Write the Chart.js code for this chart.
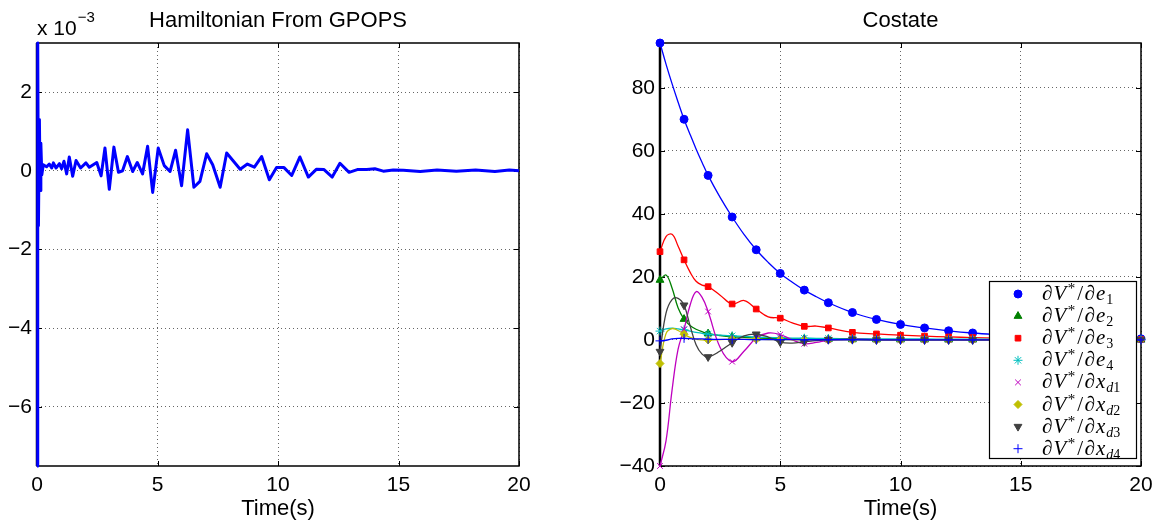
<!DOCTYPE html>
<html><head><meta charset="utf-8">
<script src="https://cdn.jsdelivr.net/npm/chart.js@4.4.0/dist/chart.umd.min.js"></script>
<style>
html,body{margin:0;padding:0;background:#fff;width:1162px;height:526px;overflow:hidden}
canvas{position:absolute;top:0}
#c1{left:0}
#c2{left:580px}
</style></head><body>
<canvas id="c1" width="570" height="526"></canvas>
<canvas id="c2" width="582" height="526"></canvas>
<script>
// ---------- data ----------
const timeTicks = [0, 5, 10, 15, 20];
const hamYTicks = [-6, -4, -2, 0, 2];          // units of 1e-3
const costateYTicks = [-40, -20, 0, 20, 40, 60, 80];

const hamTime = [0,0.03,0.06,0.1,0.13,0.16,0.2,0.26,0.4,0.51,0.61,0.68,0.79,0.93,1.02,1.12,1.23,1.34,1.48,1.62,1.81,2.03,2.17,2.48,2.66,2.82,3.0,3.19,3.38,3.55,3.75,3.97,4.16,4.38,4.59,4.8,5.03,5.28,5.52,5.75,6.0,6.25,6.51,6.76,7.04,7.29,7.6,7.87,8.43,8.73,9.02,9.32,9.64,9.94,10.25,10.57,10.91,11.26,11.6,11.91,12.25,12.57,12.95,13.29,13.68,14.02,14.37,14.78,15.2,15.9,16.6,17.4,18.2,19.0,19.6,20];
const hamValue = [-7.5,3.245,-1.4,1.3,-0.5,0.7,-0.1,0.15,0.1,0.17,0.07,0.2,0.07,0.18,0.05,0.24,-0.08,0.35,-0.14,0.26,0.07,0.2,0.09,0.21,-0.13,0.58,-0.47,0.6,-0.04,0,0.36,-0.02,0.21,-0.08,0.62,-0.55,0.58,0.13,-0.02,0.52,-0.38,1.04,-0.42,-0.27,0.43,0.15,-0.42,0.45,0.04,0.17,0.09,0.36,-0.23,0.08,0.08,-0.12,0.35,-0.16,0.04,0.03,-0.16,0.19,-0.04,0.03,0.03,0.05,-0.01,0.02,0.01,-0.02,0.02,-0.01,0.02,-0.02,0.02,0];

const costateTime = [0,0.25,0.5,0.75,1,1.25,1.5,1.75,2,2.5,3,3.5,4,4.5,5,5.5,6,6.5,7,8,9,10,11,12,13,14,15,16,17,18,19,20];
const dVde1  = [94.2,87.5,81.3,75.5,70.0,65.2,60.6,56.3,52.2,45.2,39.0,33.4,28.6,24.6,21.1,18.3,15.8,13.7,11.8,8.7,6.5,4.9,3.8,2.9,2.2,1.7,1.3,1.0,0.8,0.6,0.45,0.35];
const dVde2  = [19.0,20.6,16.5,10.2,6.6,4.6,3.4,2.6,2.0,1.4,1.0,0.8,0.6,0.5,0.4,0.35,0.3,0.25,0.2,0.15,0.12,0.1,0.08,0.07,0.06,0.05,0.04,0.03,0.03,0.02,0.02,0.02];
const dVde3  = [28.0,32.8,33.5,29.8,25.4,21.5,18.6,17.4,16.9,14.2,11.4,12.5,9.8,7.3,6.9,5.4,4.3,4.4,3.8,2.4,1.9,1.5,1.2,0.95,0.75,0.6,0.45,0.35,0.3,0.25,0.2,0.15];
const dVde4  = [2.8,3.5,3.7,3.5,3.2,2.8,2.4,2.1,1.8,1.5,1.3,1.1,0.9,0.8,0.7,0.6,0.55,0.5,0.45,0.4,0.35,0.3,0.3,0.25,0.25,0.2,0.2,0.2,0.15,0.15,0.15,0.1];
const dVdxd1 = [-40,-32,-16,-3,3.4,11,15.3,13.5,9.0,-2.4,-6.9,-3.5,0.5,2.2,1.7,0,-1.2,-0.8,-0.1,0.2,0.1,0,0,0,0,0,0,0,0,0,0,0];
const dVdxd2 = [-7.5,2.0,3.6,3.0,1.8,0.8,0.2,0.0,0.0,0.1,0.2,0.2,0.2,0.1,0.1,0.05,0,0,0,0,0,0,0,0,0,0,0,0,0,0,0,0];
const dVdxd3 = [-3.7,8.5,12.8,13.2,11.0,4.5,-1.5,-4.5,-5.4,-3.5,-0.9,1.3,1.8,0.9,-0.7,-1.0,-0.6,-0.2,0.1,0.2,0,0,0,0,0,0,0,0,0,0,0,0];
const dVdxd4 = [-0.3,-0.1,0.3,0.5,0.5,0.4,0.3,0.3,0.2,0.2,0.15,0.15,0.1,0.1,0.1,0.1,0.05,0.05,0.05,0.05,0,0,0,0,0,0,0,0,0,0,0,0];

const legendVar = ['e','e','e','e','x','x','x','x'];
const legendSub = ['1','2','3','4','d1','d2','d3','d4'];

// ---------- styles ----------
const SANS = '"Liberation Sans", Arial, sans-serif';
const SERIF = '"Liberation Serif", "Times New Roman", serif';
const seriesStyle = [
  {data: dVde1,  color:'#0000ff', style:'circle',   r:4,   rot:0},
  {data: dVde2,  color:'#008000', style:'triangle', r:4.5, rot:0},
  {data: dVde3,  color:'#ff0000', style:'rect',     r:4,   rot:0},
  {data: dVde4,  color:'#00bfbf', style:'star',     r:4.5, rot:0},
  {data: dVdxd1, color:'#bf00bf', style:'crossRot', r:4,   rot:0},
  {data: dVdxd2, color:'#bfbf00', style:'rectRot',  r:4,   rot:0},
  {data: dVdxd3, color:'#404040', style:'triangle', r:4.5, rot:180},
  {data: dVdxd4, color:'#0000ff', style:'cross',    r:4.5, rot:0},
];

const minus = v => String(v).replace('-', '\u2212');

function axisOpts(ticks, min, max, isX, fit) {
  return {
    type:'linear', min, max,
    afterBuildTicks: s => { s.ticks = ticks.map(v => ({value:v})); },
    afterFit: s => { if (isX) s.height = fit; else s.width = fit; },
    grid:{color:'rgba(0,0,0,0.6)', lineWidth:1, drawTicks:false},
    border:{display:false, dash:[1,3]},
    ticks:{color:'#000', font:{family:SANS, size:21}, padding: isX ? 7 : 5, callback: v => minus(v), maxRotation:0, autoSkip:false},
    title: isX ? {display:true, text:'Time(s)', color:'#000', font:{family:SANS, size:22}, padding:{top:0, bottom:4}} : {display:false}
  };
}

function framePlugin(title, extra) {
  return {
    id:'frame',
    beforeDatasetsDraw(chart) {
      const {ctx, chartArea:a, scales:{x, y}} = chart;
      ctx.save();
      ctx.strokeStyle = '#000';
      ctx.lineWidth = 1;
      ctx.beginPath();
      x.ticks.forEach(t => {
        const px = Math.round(x.getPixelForValue(t.value)) + 0.5;
        ctx.moveTo(px, a.bottom); ctx.lineTo(px, a.bottom - 5);
        ctx.moveTo(px, a.top); ctx.lineTo(px, a.top + 5);
      });
      y.ticks.forEach(t => {
        const py = Math.round(y.getPixelForValue(t.value)) + 0.5;
        ctx.moveTo(a.left, py); ctx.lineTo(a.left + 5, py);
        ctx.moveTo(a.right, py); ctx.lineTo(a.right - 5, py);
      });
      ctx.stroke();
      ctx.lineWidth = 1.5;
      ctx.strokeRect(a.left, a.top, a.right - a.left, a.bottom - a.top);
      ctx.lineWidth = 2.5;
      ctx.beginPath(); ctx.moveTo(a.left, a.top); ctx.lineTo(a.left, a.bottom); ctx.stroke();
      ctx.restore();
    },
    afterDraw(chart) {
      const {ctx, chartArea:a} = chart;
      ctx.save();
      ctx.fillStyle = '#000';
      ctx.font = '22px ' + SANS;
      ctx.textAlign = 'center';
      ctx.textBaseline = 'alphabetic';
      ctx.fillText(title, (a.left + a.right) / 2, 27);
      ctx.restore();
      if (extra) extra(chart);
    }
  };
}

const baseOpts = {
  responsive:false, animation:false, events:[],
  plugins:{legend:{display:false}, tooltip:{enabled:false}}
};

// ---------- left chart ----------
new Chart(document.getElementById('c1'), {
  type:'line',
  data:{datasets:[{
    data: hamTime.map((t, i) => ({x:t, y:hamValue[i]})),
    borderColor:'#0000ff', borderWidth:3, pointRadius:0, tension:0, clip:6,
    borderJoinStyle:'round'
  }]},
  options:{...baseOpts,
    layout:{padding:{left:0, top:43, right:51, bottom:0}},
    scales:{
      x: axisOpts(timeTicks, 0, 20, true, 60),
      y: axisOpts(hamYTicks, -7.5, 3.245, false, 37)
    }
  },
  plugins:[framePlugin('Hamiltonian From GPOPS', chart => {
    const {ctx, chartArea:a} = chart;
    ctx.save();
    ctx.fillStyle = '#000';
    ctx.textBaseline = 'alphabetic';
    ctx.font = '21px ' + SANS;
    const s = 'x 10';
    ctx.fillText(s, a.left, 35);
    const w = ctx.measureText(s).width;
    ctx.font = '15px ' + SANS;
    ctx.fillText('\u22123', a.left + w + 1, 22);
    ctx.restore();
  })]
});

// ---------- right chart ----------
const isMarker = i => Number.isInteger(costateTime[i]);
const costateSets = seriesStyle.map(s => ({
  data: costateTime.map((t, i) => ({x:t, y:s.data[i]})),
  borderColor:s.color, backgroundColor:s.color, borderWidth:1.3,
  pointStyle:s.style, pointRotation:s.rot,
  pointRadius: ctx => isMarker(ctx.dataIndex) ? s.r : 0,
  pointBorderWidth:1, pointBackgroundColor:s.color, pointBorderColor:s.color,
  tension:0.4, clip:10
})).reverse();

function drawLegend(chart) {
  const {ctx, chartArea:a} = chart;
  const bw = 147, bh = 177;
  const bx = a.right - 5 - bw, by = a.bottom - 8 - bh;
  ctx.save();
  ctx.fillStyle = '#fff';
  ctx.fillRect(bx, by, bw, bh);
  ctx.strokeStyle = '#000';
  ctx.lineWidth = 1.2;
  ctx.strokeRect(bx + 0.5, by + 0.5, bw, bh);
  seriesStyle.forEach((s, i) => {
    const cy = by + 13 + i * 22.1;
    ctx.fillStyle = s.color; ctx.strokeStyle = s.color; ctx.lineWidth = 1;
    Chart.helpers.drawPoint(ctx, {pointStyle:s.style, radius:s.r, rotation:s.rot, borderWidth:1}, bx + 29, cy);
    // label: ∂V*/∂e_1
    ctx.fillStyle = '#000';
    ctx.textBaseline = 'alphabetic';
    let cx = bx + 53;
    const base = cy + 6;
    const seg = (t, font, dy, gap) => { ctx.font = font; ctx.fillText(t, cx, base + dy); cx += ctx.measureText(t).width + (gap || 0); };
    const it = n => 'italic ' + n + 'px ' + SERIF;
    const up = n => n + 'px ' + SERIF;
    seg('\u2202', it(21), 0, 1);
    seg('V', it(21), 0, 1.5);
    seg('*', up(15), -7, 2);
    seg('/', up(21), 0, 1.5);
    seg('\u2202', it(21), 0, 1);
    seg(legendVar[i], it(21), 0, 1);
    for (const ch of legendSub[i]) seg(ch, /\d/.test(ch) ? up(14) : it(14), 4, 0);
  });
  ctx.restore();
}

new Chart(document.getElementById('c2'), {
  type:'line',
  data:{datasets: costateSets},
  options:{...baseOpts,
    layout:{padding:{left:0, top:43, right:21, bottom:0}},
    scales:{
      x: axisOpts(timeTicks, 0, 20, true, 60),
      y: axisOpts(costateYTicks, -40, 94.2, false, 80)
    }
  },
  plugins:[framePlugin('Costate', drawLegend)]
});
</script>
</body></html>
